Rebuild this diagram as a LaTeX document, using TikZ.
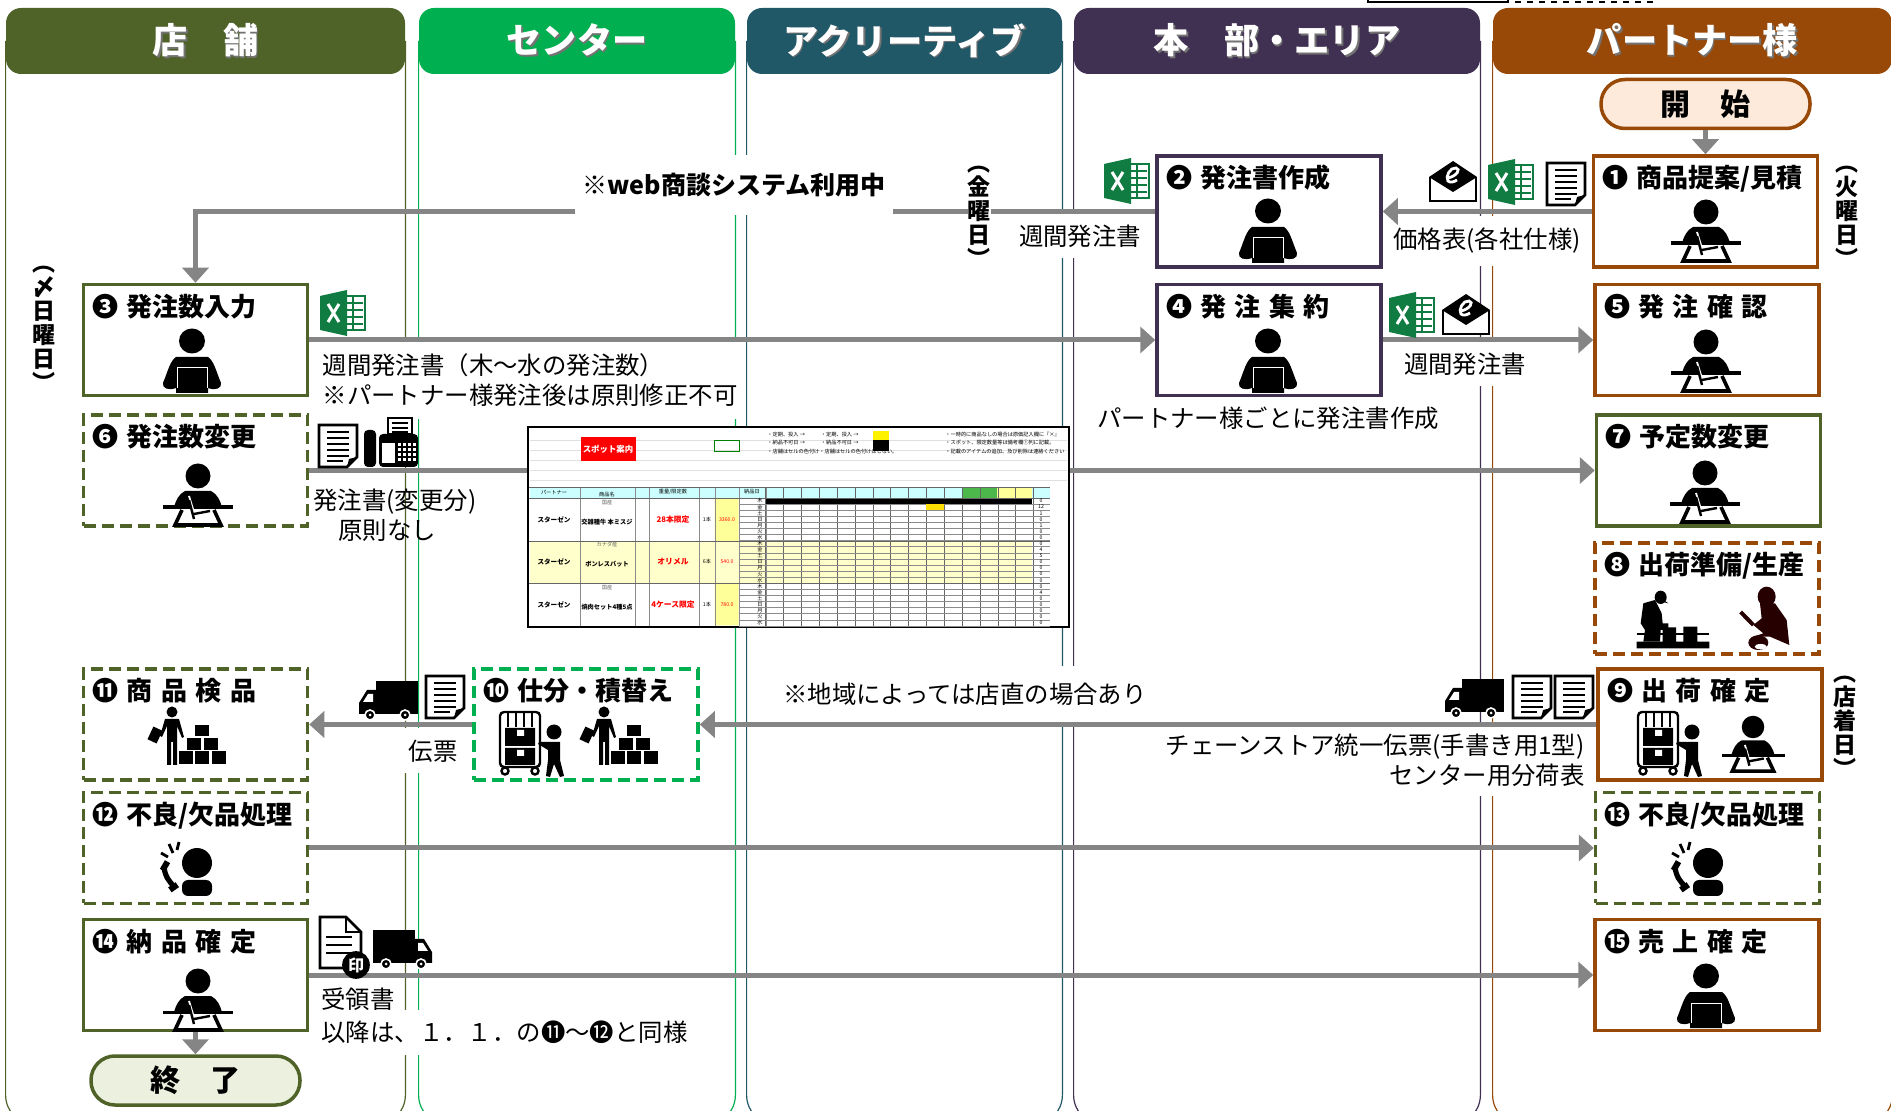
\documentclass[tikz,border=0pt]{standalone}
\usepackage{fontspec}
\setmainfont{Noto Sans CJK JP}
\usepackage{tikz}
\usetikzlibrary{arrows.meta}
\usetikzlibrary{fit,backgrounds,positioning}
\definecolor{laneolive}{HTML}{4F6228}
\definecolor{lanegreen}{HTML}{00B050}
\definecolor{laneteal}{HTML}{215868}
\definecolor{lanepurple}{HTML}{403152}
\definecolor{lanebrown}{HTML}{984807}
\definecolor{linegray}{HTML}{858585}
\definecolor{xlgreen}{HTML}{107C41}
\definecolor{rowcyan}{HTML}{CCFFFF}
\definecolor{rowyellow}{HTML}{FFFFCC}
\definecolor{priceyellow}{HTML}{FFFF99}
\definecolor{startfill}{HTML}{FDEADA}
\definecolor{endfill}{HTML}{EBF1DE}
\newcommand{\titlefont}{\fontsize{13}{14}\selectfont\bfseries}
\newcommand{\notefont}{\fontsize{12.2}{15.2}\selectfont}
\newcommand{\gap}{\hspace{.33em}}
\newcommand{\numgap}{\hspace{.3em}}
\newcommand{\shadowtext}[1]{\raisebox{1pt}{\makebox[0pt][l]{\kern.7pt\raisebox{-.7pt}{\color{black!55}#1}}#1}}
\tikzstyle{head} = [rectangle, rounded corners=7.5pt, text=white, inner sep=0pt,
minimum height=33pt, font=\fontsize{17.6}{20}\selectfont\bfseries]
\tikzstyle{block} = [rectangle, draw, fill=white, line width=1.75pt, inner sep=4.6pt,
text width=102.8pt, align=left, text height=11.3pt, text depth=35pt, font=\titlefont]
\tikzstyle{blockdash} = [block, dash pattern=on 6pt off 3pt]
\tikzstyle{pill} = [rectangle, draw, line width=1.75pt, rounded corners=12pt, minimum width=104.5pt,
minimum height=24.5pt, inner sep=0pt, font=\fontsize{15}{18}\selectfont\bfseries]
\tikzstyle{line} = [draw, linegray, line width=2.5pt, -{Triangle[length=7.5pt,width=13pt]}]
\tikzstyle{note} = [inner sep=0pt, font=\notefont]
\tikzstyle{day} = [inner sep=0pt, align=center, font=\fontsize{11.5}{12}\selectfont\bfseries]
\tikzstyle{cell} = [inner sep=0pt, font=\fontsize{2.6}{3}\selectfont]
\tikzset{
personpc/.pic={
	\fill (0,0) ellipse (13 and 12.5);
	\fill (-16,16) -- (16,16) .. controls (22,20) and (24,30) .. (29,42) .. controls (30,47) and (24,50) .. (16,47)
	-- (16,52) -- (-16,52) -- (-16,47) .. controls (-24,50) and (-30,47) .. (-29,42) .. controls (-24,30) and (-22,20) .. (-16,16) -- cycle;
	\draw[white, line width=.5pt] (-15,47) -- (-15,27) -- (15,27) -- (15,47);
},
persondesk/.pic={
	\fill (0,0) ellipse (12.5 and 12.5);
	\fill (-13,15) -- (13,15) .. controls (19,18) and (22,24) .. (24,31) -- (-24,31) .. controls (-22,24) and (-19,18) .. (-13,15) -- cycle;
	\fill (-35,29.5) rectangle (35,33);
	\draw[line width=1.8pt, fill=white] (-16,34) -- (-23,49) -- (23,49) -- (16,34);
	\draw[white, line width=.9pt] (-9,20) -- (-5,33);
	\draw[line width=1.2pt] (-9,24) -- (-4,43) (-4,38) -- (12,35);
},
excelicon/.pic={
	\draw[xlgreen, line width=.6pt, fill=white] (0,-17) rectangle (22,17);
	\foreach \gy in {-10,-3,4,11} \draw[xlgreen, line width=.7pt] (3,\gy) -- (20,\gy);
	\draw[xlgreen, line width=.7pt] (10,-17) -- (10,17);
	\fill[xlgreen] (-23,-17) -- (4,-23) -- (4,23) -- (-23,17) -- cycle;
	\draw[white, line width=1.5pt] (-15,-9) -- (-4,9) (-4,-9) -- (-15,9);
},
mailicon/.pic={
	\draw[line width=1.2pt, fill=white] (-23,-5) -- (-23,19) -- (23,19) -- (23,-5);
	\fill (0,-21) -- (24,-5) -- (0,10) -- (-24,-5) -- cycle;
	\draw[white, line width=1.4pt] (-5,-4) .. controls (4,-6) and (8,-13) .. (3,-14) .. controls (-3,-15) and (-8,-5) .. (-5,-1) .. controls (-3,1) and (1,0) .. (4,-2);
},
sheeticon/.pic={
	\draw[line width=1.3pt, fill=white] (-19,-21) -- (19,-21) -- (19,11) -- (9,21) -- (-19,21) -- cycle;
	\fill (9,21) -- (11,13) -- (19,11) -- cycle;
	\foreach \gy in {-14,-8,-2,4,10} \draw[line width=1.1pt] (-11,\gy) -- (11,\gy);
	\draw[line width=1.1pt] (-11,15) -- (5,15);
},
faxicon/.pic={
	\fill[rounded corners=2pt] (-27,-13) rectangle (-15,24);
	\fill[rounded corners=2pt] (-12,-9) rectangle (27,24);
	\draw[line width=1pt, fill=white] (-3,-25) rectangle (21,-9);
	\foreach \gy in {-20,-15,-11} \draw[line width=1pt] (1,\gy) -- (17,\gy);
	\fill[white] (-9,0) rectangle (4,20);
	\foreach \gx in {8,13,18,23} \foreach \gy in {2,7,12,17} \fill[white] (\gx-1.5,\gy-1.5) rectangle (\gx+1.5,\gy+1.5);
},
truckicon/.pic={
	\fill (-12,-19) rectangle (30,14);
	\fill (-12,-10) -- (-21,-10) -- (-29,3) -- (-29,14) -- (-12,14) -- cycle;
	\fill[white] (-15,-6) -- (-20,-6) -- (-25,2) -- (-15,2) -- cycle;
	\draw[fill=black, line width=.8pt, draw=white] (-18,15) circle [radius=5];
	\draw[fill=black, line width=.8pt, draw=white] (17,15) circle [radius=5];
	\fill[white] (-18,15) circle [radius=1.5] (17,15) circle [radius=1.5];
},
workerbox/.pic={
	\fill (0,0) ellipse (5.5 and 5.5);
	\fill (-7,7) -- (7,7) -- (12,25) -- (10,26) -- (5,14) -- (5,53) -- (1,53) -- (1,30) -- (-1,30) -- (-1,53) -- (-5,53) -- (-5,14) -- (-10,25) -- (-12,24) -- cycle;
	\fill[rotate around={-25:(-17,23)}] (-22,16) rectangle (-12,30);
	\foreach \bx in {7,23,40} \fill (\bx,39) rectangle ++(14,13);
	\foreach \bx in {15,32} \fill (\bx,26) rectangle ++(14,12);
	\fill (23,13) rectangle ++(14,11);
},
phoneperson/.pic={
	\fill (0,0) ellipse (15 and 15);
	\fill[rounded corners=3pt] (-15,17) -- (-15,33) -- (15,33) -- (15,17) -- cycle;
	\draw[line width=2.6pt] (-33,4) .. controls (-32,13) and (-28,19) .. (-22,24);
	\fill[rotate around={-30:(-32,3)}] (-35,-2) rectangle (-29,8);
	\fill[rotate around={-55:(-23,24)}] (-26,20) rectangle (-20,29);
	\draw[line width=1.4pt] (-36,-10) -- (-29,-6) (-28,-19) -- (-24,-10) (-18,-21) -- (-20,-13);
},
cartperson/.pic={
	\draw[line width=1.2pt, rounded corners=2pt] (0,0) rectangle (40,55);
	\foreach \bx in {8,16,24,32} \draw[line width=1pt] (\bx,0) -- (\bx,15);
	\fill (5,16) rectangle (35,34) (5,36) rectangle (35,53);
	\fill[white] (17,18) rectangle (24,24) (17,38) rectangle (24,44);
	\draw[line width=1.2pt, fill=white] (5,59) circle [radius=3.5] (35,59) circle [radius=3.5];
	\fill (54,20) ellipse (7.5 and 7.5);
	\fill (48,30) -- (60,30) -- (60,48) -- (64,64) -- (60,65) -- (54,52) -- (50,65) -- (46,64) -- (48,48) -- (48,38) -- (38,32) -- (39,30) -- cycle;
},
packer/.pic={
	\fill (212,172) ellipse (18 and 20);
	\fill (200,165) -- (235,190) -- (215,185) -- cycle;
	\fill (160,190) -- (195,180) -- (215,220) -- (218,250) -- (235,250) -- (235,270) -- (212,270) -- (210,305) -- (160,305) -- (165,270) -- (152,250) -- cycle;
	\fill (218,262) rectangle (258,305) (280,260) rectangle (322,305) (140,305) rectangle (358,325);
	\draw[line width=.7pt] (140,282) -- (358,282);
},
cutter/.pic={
	\fill[black!85!red] (530,170) ellipse (27 and 30);
	\fill[black!85!red] (510,190) -- (555,190) -- (590,240) -- (598,315) -- (540,290) -- (490,290) -- (520,280) -- (490,255) -- (515,235) -- cycle;
	\draw[black!85!red, line width=2pt] (452,216) -- (490,255);
	\fill[black!85!red] (505,308) ellipse (30 and 22);
	\fill[white] (512,320) ellipse (18 and 8);
}
}
\begin{document}
\begin{tikzpicture}[x=0.5pt, y=-0.5pt, node distance = 2cm]
\useasboundingbox (0,0) rectangle (1891,1111);
% Place nodes
\node [head, fill=laneolive, minimum width=199.5pt] (h1) at (205.5,41) {\shadowtext{店　舗}};
\node [head, fill=lanegreen, minimum width=158pt] (h2) at (577,41) {\shadowtext{センター}};
\node [head, fill=laneteal, minimum width=157.5pt] (h3) at (904.5,41) {\shadowtext{アクリーティブ}};
\node [head, fill=lanepurple, minimum width=203pt] (h4) at (1277,41) {\shadowtext{本　部・エリア}};
\node [head, fill=lanebrown, minimum width=199.5pt] (h5) at (1692.5,41) {\shadowtext{パートナー様}};

\node [pill, draw=lanebrown, fill=startfill] (i0) at (1705.5,104) {開　始};
\node [block, draw=lanebrown] (i1) at (1705.5,211.5) {❶\numgap 商品提案/見積};
\node [block, draw=lanepurple, left of=i1, node distance=218.25pt] (i2) {❷\numgap 発注書作成};
\node [block, draw=lanepurple, below of=i2, node distance=64.25pt] (i4) {❹\numgap 発\gap 注\gap 集\gap 約};
\node [block, draw=lanebrown, below of=i1, node distance=64.25pt, xshift=.75pt] (i5) {❺\numgap 発\gap 注\gap 確\gap 認};
\node [block, draw=laneolive] (i3) at (195.5,340) {❸\numgap 発注数入力};
\node [blockdash, draw=laneolive, below of=i3, node distance=65.25pt] (i6) {❻\numgap 発注数変更};
\node [block, draw=laneolive] (i7) at (1708.5,470.5) {❼\numgap 予定数変更};
\node [blockdash, draw=lanebrown] (i8) at (1707,598.5) {❽\numgap 出荷準備/生産};
\node [block, draw=lanebrown] (i9) at (1710,724.5) {❾\numgap 出\gap 荷\gap 確\gap 定};
\node [blockdash, draw=lanegreen] (i10) at (586,724.5) {❿\numgap 仕分・積替え};
\node [blockdash, draw=laneolive, below of=i6, node distance=127pt] (i11) {⓫\numgap 商\gap 品\gap 検\gap 品};
\node [blockdash, draw=laneolive, below of=i11, node distance=61.75pt] (i12) {⓬\numgap 不良/欠品処理};
\node [blockdash, draw=laneolive, xshift=.75pt] (i13) at (1706,848) {⓭\numgap 不良/欠品処理};
\node [block, draw=laneolive, below of=i12, node distance=63.5pt] (i14) {⓮\numgap 納\gap 品\gap 確\gap 定};
\node [block, draw=lanebrown] (i15) at (1707,975) {⓯\numgap 売\gap 上\gap 確\gap 定};
\node [pill, draw=laneolive, fill=endfill, below of=i14, node distance=52.75pt] (i16) {終　了};

\node [note, fill=white, minimum height=22.5pt] (n1) at (1080,236) {週間発注書};
\node [note, fill=white, minimum height=25pt] (n2) at (1487,241) {価格表(各社仕様)};
\node [note, fill=white, minimum height=22.5pt] (n3) at (1465,364) {週間発注書};
\node [note] (n4) at (1268,418.5) {パートナー様ごとに発注書作成};
\node [note, fill=white, align=left, minimum height=39pt, inner xsep=3pt] (n5) at (530,380) {週間発注書（木～水の発注数）\\※パートナー様発注後は原則修正不可};
\node [note, align=left, anchor=west] (n6) at (313,515) {発注書(変更分)\\\hspace*{12.5pt}原則なし};
\node [note, fill=white, minimum height=22.5pt, inner xsep=5pt] (n7) at (433,751) {伝票};
\node [note, fill=white, minimum height=28pt] (n8) at (965,694) {※地域によっては店直の場合あり};
\node [note, fill=white, align=right, anchor=east, minimum height=36.5pt] (n9) at (1585,760) {チェーンストア統一伝票(手書き用1型)\\センター用分荷表};
\node [note, anchor=west] (n10) at (321,999) {受領書};
\node [note, fill=white, anchor=west, minimum height=22.5pt] (n11) at (321,1032) {以降は、１．１．の⓫～⓬と同様};

\node [day] (d1) at (44,329) {︵\\〆\\日\\曜\\日\\︶};
\node [day] (d3) at (1847,217) {︵\\火\\曜\\日\\︶};
\node [day] (d4) at (1845,727) {︵\\店\\着\\日\\︶};

\begin{scope}[on background layer]
\foreach \n/\c in {h1/laneolive,h2/lanegreen,h3/laneteal,h4/lanepurple,h5/lanebrown}
\draw [\c, line width=.6pt, rounded corners=15pt] (\n.west) -- (\n.west |- 0,1125) -- (\n.east |- 0,1125) -- (\n.east);
\draw [line width=1pt] (1368,-10) rectangle (1508,2);
\draw [line width=1pt, dashed] (1515,-10) rectangle (1657,2);
\end{scope}

% Draw edges
\path [line] (i0) -- (i1);
\path [line] (i1) -- (i2);
\path [line] (i2.west) -| (i3.north);
\path [line] (i3) -- (i4);
\path [line] (i4) -- (i5);
\path [line] (i6) -- (i7);
\path [line] (i9) -- (i10);
\path [line] (i10) -- (i11);
\path [line] (i12) -- (i13);
\path [line] (i14) -- (i15);
\path [line] (i14) -- (i16);

\node [fill=white, inner sep=0pt, minimum width=159pt, minimum height=30pt, font=\fontsize{12.5}{14}\selectfont\bfseries] (n0) at (734,185) {※web商談システム利用中};
\node [day, fill=white] (d2) at (979,217) {︵\\金\\曜\\日\\︶};

% Icons
\foreach \px/\py in {192/341,1268/211,1268/341,1706/976} \pic at (\px,\py) {personpc};
\foreach \px/\py in {198/476,198/981,1706/212,1706/342,1705/473} \pic at (\px,\py) {persondesk};
\pic [scale=.9] at (1753,727) {persondesk};
\foreach \px/\py in {343/313,1127/181,1511/182,1412/315} \pic at (\px,\py) {excelicon};
\foreach \px/\py in {1453/182,1466/315} \pic at (\px,\py) {mailicon};
\foreach \px/\py in {1566/184,338/446,445/697,1532/697,1574/697} \pic at (\px,\py) {sheeticon};
\pic at (391,443) {faxicon};
\pic at (388,700) {truckicon};
\pic at (1474,698) {truckicon};
\pic [xscale=-1] at (403,949) {truckicon};
\foreach \px in {172,604} \pic at (\px,712) {workerbox};
\foreach \px in {197,1708} \pic at (\px,863) {phoneperson};
\foreach \px in {500,1638} \pic at (\px,712) {cartperson};
\pic [scale=.3333] at (1590,540) {packer};
\pic [scale=.3333] at (1590,540) {cutter};
% receipt next to the truck
\draw [line width=1.3pt, fill=white] (320,917) -- (346,917) -- (361,932) -- (361,968) -- (320,968) -- cycle;
\draw [line width=1.1pt] (346,917) -- (346,932) -- (361,932);
\foreach \gy in {937,945,953} \draw [line width=1.1pt] (326,\gy) -- (352,\gy);
\node [circle, fill=black, text=white, inner sep=1pt, font=\fontsize{8}{9}\selectfont\bfseries] (seal) at (356,965) {印};

% Order sheet
\node [draw, fill=white, line width=1.2pt, inner sep=0pt, minimum width=270.5pt, minimum height=100pt] (sheet) at (798.5,527) {};
\fill [rowcyan] (530,487) rectangle (1050,498);
\fill [rowyellow] (530,541) rectangle (1032,583);
\fill [priceyellow] (714.6,498) rectangle (738.6,541) (714.6,583) rectangle (738.6,625.5);
\fill [green!60!black!70] (961.5,487) rectangle (997.2,498);
\fill [priceyellow] (997.2,487) rectangle (1032,498);
\foreach \gy in {440,450,460,470,480} \draw [black!12, line width=.3pt] (530,\gy) -- (1067,\gy);
\foreach \gx in {580,635,649,699,715,739,766} \draw [black!45, line width=.4pt] (\gx,487) -- (\gx,626);
\foreach \k in {0,...,15} \draw [black!60, line width=.3pt] ({765.7+\k*17.86},487) -- ({765.7+\k*17.86},626);
\foreach \k in {0,...,21} \draw [black!45, line width=.25pt] (739,{498+\k*6.09}) -- (1050,{498+\k*6.09});
\foreach \gy in {487,498,541,583} \draw [black!60, line width=.45pt] (529,\gy) -- (1050,\gy);
\fill (766,499) rectangle (1032,504);
\fill [yellow!80!orange] (926.4,504.5) rectangle (944.3,510);
\node [rectangle, fill=red, text=white, inner sep=0pt, minimum width=27.5pt, minimum height=12pt, font=\fontsize{4.2}{5}\selectfont\bfseries] (t0) at (608,449) {スポット案内};
\draw [green!50!black, line width=.4pt] (714,440) rectangle (739,451);
\fill [yellow] (873,431) rectangle (889,440);
\fill (889,440) rectangle (873,451);
\node [cell, anchor=west, align=left] (t1) at (767,443) {・定期、投入\ →\hspace{8pt}・定期、投入\ →\\[1.2pt]・納品不可日\ →\hspace{8pt}・納品不可日\ →\\[1.2pt]・店舗はセルの色付け・店舗はセルの色付けはしない。};
\node [cell, anchor=west, align=left] (t2) at (945,443) {・一時的に商品なしの場合は原価記入欄に『×』\\[1.2pt]・スポット、限定数量等は備考欄①列に記載。\\[1.2pt]・記載のアイテムの追加、及び削除は連絡ください};
\node [cell] (t3) at (554,492) {パートナー};
\node [cell] (t4) at (607,495) {商品名};
\node [cell] (t5) at (673,492) {重量/限定数};
\node [cell] (t6) at (752,492) {納品日};
\foreach \k/\gy/\ori/\item/\lim/\qty/\pr in {1/520/国産/交雑種牛 本ミスジ/28本限定/1本/3360.0,2/562/カナダ産/ボンレスバット/オリメル/6本/540.0,3/605/国産/焼肉セット4種5点/4ケース限定/1本/780.0}{
\node [cell, font=\fontsize{3.3}{4}\selectfont\bfseries] (v\k) at (554,\gy) {スターゼン};
\node [cell, text=black!60] (o\k) at (607,\gy-17) {\ori};
\node [cell, font=\fontsize{3.1}{4}\selectfont\bfseries] (g\k) at (607,\gy+2) {\item};
\node [cell, text=red, font=\fontsize{3.9}{5}\selectfont\bfseries] (m\k) at (673,\gy) {\lim};
\node [cell] (q\k) at (707,\gy) {\qty};
\node [cell, text=red] (p\k) at (727,\gy) {\pr};
}
\foreach \k/\w/\tot in {0/木/0,1/金/12,2/土/1,3/日/0,4/月/1,5/火/0,6/水/0,7/木/0,8/金/4,9/土/5,10/日/0,11/月/0,12/火/0,13/水/0,14/木/0,15/金/4,16/土/0,17/日/0,18/月/0,19/火/0,20/水/0}{
\node [cell] (w\k) at (760,{501+\k*6.09}) {\w};
\node [cell] (s\k) at (1041,{501+\k*6.09}) {\tot};
}
\end{tikzpicture}
\end{document}
